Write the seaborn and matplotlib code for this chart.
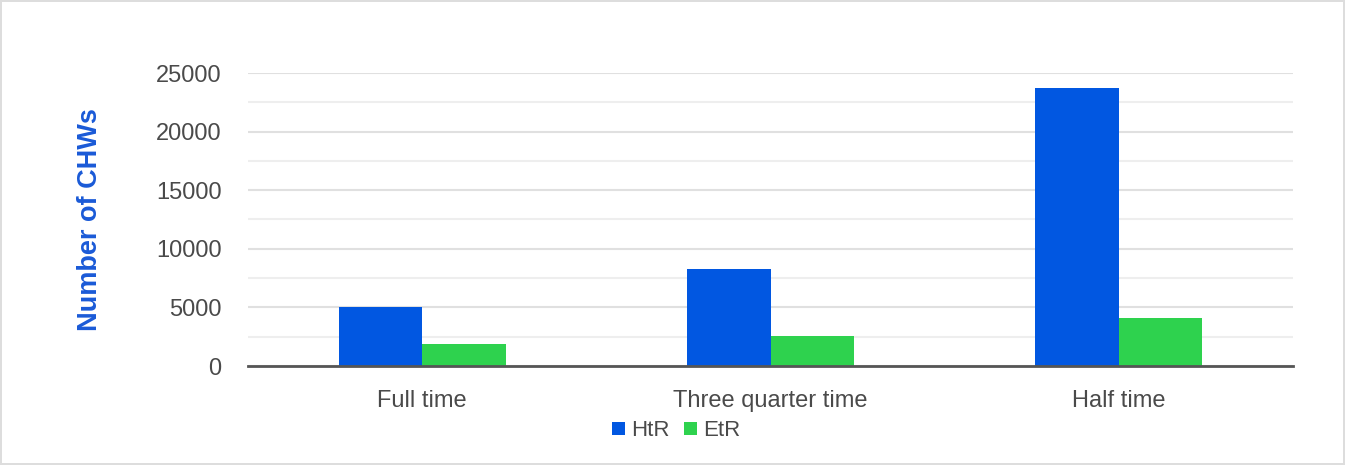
import matplotlib
matplotlib.use("Agg")
import matplotlib.pyplot as plt
import seaborn as sns
import pandas as pd
from matplotlib.ticker import MultipleLocator

categories = ["Full time", "Three quarter time", "Half time"]
htr_values = [5000, 8250, 23700]
etr_values = [1880, 2570, 4100]
series_names = ["HtR", "EtR"]
y_ticks = [0, 5000, 10000, 15000, 20000, 25000]

df = pd.DataFrame({
    "category": categories * 2,
    "series": [series_names[0]] * 3 + [series_names[1]] * 3,
    "value": htr_values + etr_values,
})

sns.set_theme(style="white")
plt.rcParams["font.family"] = ["Liberation Sans", "DejaVu Sans"]

text_color = "#4a4a4a"
palette = {"HtR": "#0157E1", "EtR": "#2ED24E"}

fig = plt.figure(figsize=(13.45, 4.65), dpi=100)
fig.patch.set_edgecolor("#dddddd")
fig.patch.set_linewidth(1.5)
ax = fig.add_axes([248 / 1345, 1 - 366 / 465, (1293 - 248) / 1345, (366 - 73) / 465])

sns.barplot(data=df, x="category", y="value", hue="series", order=categories,
            hue_order=series_names, palette=palette, width=0.48,
            saturation=1, linewidth=0, ax=ax)

ax.set_xlim(-0.5, 2.5)
ax.set_ylim(0, 25000)
ax.set_yticks(y_ticks)
ax.set_yticklabels([str(t) for t in y_ticks])
ax.yaxis.set_minor_locator(MultipleLocator(2500))
ax.grid(axis="y", which="major", color="#e0e0e0", linewidth=1.5)
ax.grid(axis="y", which="minor", color="#eeeeee", linewidth=1.5)
ax.set_axisbelow(True)

for side in ["top", "right", "left"]:
    ax.spines[side].set_visible(False)
ax.spines["bottom"].set_color("#555555")
ax.spines["bottom"].set_linewidth(2)

ax.tick_params(axis="both", which="both", length=0, labelsize=17, colors=text_color)
ax.tick_params(axis="y", pad=19)
ax.tick_params(axis="x", pad=17)

ax.set_xlabel("")
ax.set_ylabel("Number of CHWs", fontsize=19.5, fontweight="bold", color="#1A5AD7", labelpad=38)

leg = ax.legend(loc="upper center", bbox_to_anchor=(0.41, -0.155), ncol=2, frameon=False,
                fontsize=16, handlelength=0.55, handleheight=0.55, handletextpad=0.3,
                columnspacing=0.65, borderaxespad=0)
for t in leg.get_texts():
    t.set_color(text_color)

fig.savefig("out.png", dpi=100)
